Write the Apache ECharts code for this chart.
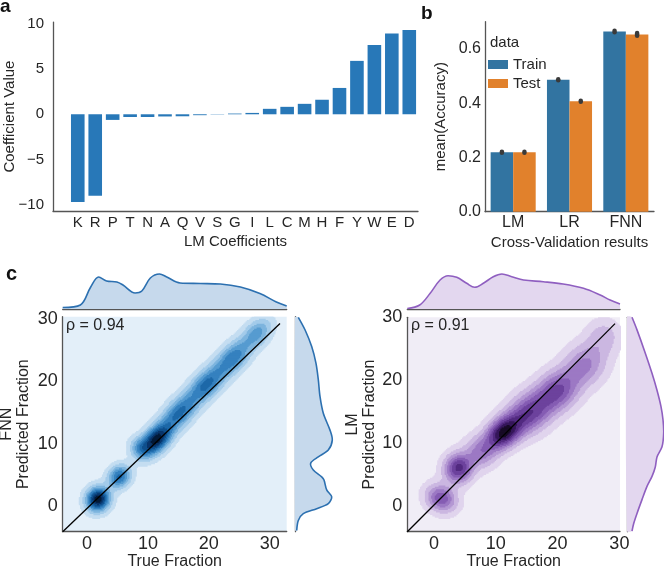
<!DOCTYPE html>
<html><head><meta charset="utf-8">
<script src="https://cdn.jsdelivr.net/npm/echarts@6/dist/echarts.min.js"></script>
<style>html,body{margin:0;padding:0;background:#fff}#c{width:664px;height:569px}</style>
</head><body><div id="c"></div>
<script>
// ---------- Panel a: LM coefficients ----------
const coefLetters = ['K','R','P','T','N','A','Q','V','S','G','I','L','C','M','H','F','Y','W','E','D'];
const coefValues = [-9.65,-8.96,-0.62,-0.3,-0.3,-0.24,-0.22,-0.1,-0.03,0.08,0.15,0.6,0.82,1.15,1.6,2.9,5.88,7.64,8.9,9.27];
const coefTicks = [-10,-5,0,5,10];

// ---------- Panel b: cross-validation ----------
const cvModels = ['LM','LR','FNN'];
const trainAcc = [0.219,0.486,0.664];
const testAcc  = [0.219,0.407,0.653];
const trainLo = [0.217,0.484,0.661];
const trainHi = [0.221,0.488,0.667];
const testLo  = [0.217,0.405,0.648];
const testHi  = [0.221,0.409,0.658];
const accTicks = [0,0.2,0.4,0.6];

// ---------- Panel c: joint KDE plots ----------
const fracTicks = [0,10,20,30];
// density components: [cx, cy, spreadAlong, spreadAcross, weight, angleDeg]
const fnnBlobs = [
  [1.8, 1.1, 1.3, 1.2, 1.0, 45],
  [5.3, 4.7, 1.3, 1.1, 0.62, 45],
  [8.8, 9.3, 1.1, 1.2, 0.35, 45],
  [11.4, 10.7, 2.0, 1.2, 0.95, 45],
  [15.2, 15.0, 2.4, 1.3, 0.6, 45],
  [19.6, 19.5, 2.4, 1.3, 0.6, 45],
  [24.0, 23.8, 2.4, 1.3, 0.56, 45],
  [28.0, 27.8, 1.8, 1.2, 0.4, 45]
];
const lmBlobs = [
  [11.2, 11.6, 2.2, 1.5, 1.0, 40],
  [4.0, 6.0, 1.6, 1.5, 0.8, 60],
  [1.2, 1.2, 1.4, 1.7, 0.62, 65],
  [7.5, 8.5, 1.6, 1.7, 0.4, 45],
  [15.5, 14.8, 2.6, 2.0, 0.68, 38],
  [20.0, 18.3, 2.5, 2.0, 0.63, 40],
  [24.5, 22.5, 2.5, 2.1, 0.42, 45],
  [27.5, 27.0, 1.8, 1.8, 0.22, 60]
];
const kdeLevels = [0.05,0.15,0.26,0.37,0.48,0.59,0.7,0.81,0.92];
const fnnColors = ['#e3eff9','#c4ddf1','#a3cbea','#7db4de','#569bd0','#3581bf','#1d68a8','#0f4f8c','#08346a','#031a38'];
const lmColors  = ['#f0edf6','#e0d4ed','#cbb7e1','#b498d3','#9c79c4','#855cb3','#6c429d','#522a80','#35165a','#170a26'];

// marginal densities
const fnnTopX = [-4,-1.1,0.6,1.9,3.2,4.9,5.9,7.9,9.0,10.4,11.9,13.1,15.3,18.6,21.9,25.2,28.4,31.1,32.8];
const fnnTopH = [1.5,4,22,32,28,27,24,16,18,31,35,32,26,25.5,25,22,15.5,7,3];
const fnnRightY = [30.3,28.3,25.6,22.9,20.3,17.6,14.9,12.2,10.6,9.0,7.9,6.9,5.8,4.7,4.2,2.6,1.5,0.4,-0.4,-1.2,-2.3,-3.9];
const fnnRightH = [3.3,10,16.7,21,23.3,25,28.3,35,37.3,33.3,23.3,15.7,18.3,26.7,29,31.7,36.7,33.3,21.7,8.3,3.3,1.7];
const lmTopX = [-4.3,-2.3,-0.6,1.0,2.3,3.7,5.3,6.6,8.0,9.6,11.0,12.6,14.5,17.7,20.9,24.2,26.9,28.5,30.1];
const lmTopH = [0.5,4,15.7,29,33.3,31.7,25.7,21.7,25.7,32.3,35,32.3,29,27.3,25,20.7,14,9,5];
const lmRightY = [30,28.0,24.3,21.1,18.4,15.8,13.7,11.6,9.4,7.8,6.2,4.7,3.1,1.0,-1.2,-2.8,-4.0];
const lmRightH = [5,10,18.3,25,30,34,36,36.7,35,30,28.3,25,20,15,10,6.7,5];

const fnnDiagX = [-4, 31.7], fnnDiagY = [-4.1, 29.3];
const lmDiagX = [-4.3, 29.3], lmDiagY = [-4.1, 29.0];

// ---------- helpers ----------
const FONT = 'Liberation Sans, Arial, Helvetica, sans-serif';
const TXT = '#262626';
const AXL = {show:true, onZero:false, lineStyle:{color:'#555', width:1.3}};

function density(blobs, x, y){
  let s = 0;
  for (const b of blobs){
    const a = b[5]*Math.PI/180, dx = x-b[0], dy = y-b[1];
    const u = dx*Math.cos(a)+dy*Math.sin(a), v = -dx*Math.sin(a)+dy*Math.cos(a);
    s += b[4]*Math.exp(-0.5*(u*u/(b[2]*b[2]) + v*v/(b[3]*b[3])));
  }
  return s;
}
function buildRuns(blobs, xmin, xmax, ymin, ymax, step){
  const nx = Math.ceil((xmax-xmin)/step)+1, ny = Math.ceil((ymax-ymin)/step)+1;
  const g = []; let mx = 0;
  for (let j=0;j<ny;j++){ const row=[]; const y=ymin+j*step;
    for (let i=0;i<nx;i++){ const d=density(blobs, xmin+i*step, y); row.push(d); if(d>mx) mx=d; }
    g.push(row); }
  const runs = [];
  kdeLevels.forEach((lv, L)=>{
    const thr = lv*mx;
    for (let j=0;j<ny;j++){ let start=-1;
      for (let i=0;i<=nx;i++){
        const on = i<nx && g[j][i]>=thr;
        if (on && start<0) start=i;
        if (!on && start>=0){ runs.push([xmin+start*step, xmin+(i-1)*step, ymin+j*step, L+1]); start=-1; }
      }
    }
  });
  return runs;
}
const STEP = 0.2;
function kdeSeries(runs, colors, gi){
  return {type:'custom', xAxisIndex:gi, yAxisIndex:gi, data:runs, clip:true, silent:true, z:1,
    encode:{x:[0,1], y:2}, animation:false, progressive:0,
    renderItem:function(p, api){
      const x0=api.value(0), x1=api.value(1), y=api.value(2), L=api.value(3);
      const a=api.coord([x0-STEP/2, y+STEP/2]), b=api.coord([x1+STEP/2, y-STEP/2]);
      return {type:'rect', shape:{x:a[0]-0.3, y:a[1]-0.4, width:b[0]-a[0]+0.6, height:b[1]-a[1]+0.8},
        style:{fill:colors[L]}};
    }};
}
function sideMarginal(ys, hs, line, fill, gi){
  return {type:'custom', xAxisIndex:gi, yAxisIndex:gi, data:[[1, ys[0]]], clip:false, silent:true,
    animation:false,
    renderItem:function(p, api){
      const pts = ys.map((y,k)=>api.coord([hs[k], y]));
      const top = api.coord([0, ys[0]]), bot = api.coord([0, ys[ys.length-1]]);
      return {type:'group', children:[
        {type:'polygon', shape:{points:[top].concat(pts,[bot]), smooth:0.3}, style:{fill:fill}},
        {type:'polyline', shape:{points:pts, smooth:0.3}, style:{stroke:line, lineWidth:1.6, fill:null}}
      ]};
    }};
}
function errSeries(lo, hi, sign){
  return {type:'custom', xAxisIndex:1, yAxisIndex:1, z:5, silent:true, animation:false,
    data: lo.map((v,i)=>[i, v, hi[i]]), encode:{x:0, y:[1,2]},
    renderItem:function(p, api){
      const i=api.value(0), a=api.coord([i, api.value(1)]), b=api.coord([i, api.value(2)]);
      const w=api.size([1,0])[0]; const x=a[0]+sign*0.2*w;
      return {type:'line', shape:{x1:x,y1:a[1],x2:x,y2:b[1]}, style:{stroke:'#3a3a3a', lineWidth:4.5, lineCap:'round'}};
    }};
}

const fnnRange = {xmin:-4, xmax:32.8, ymin:-4.1, ymax:30.4};
const lmRange  = {xmin:-4.3, xmax:30.1, ymin:-4.1, ymax:30.0};
const fnnRuns = buildRuns(fnnBlobs, fnnRange.xmin, fnnRange.xmax, fnnRange.ymin, fnnRange.ymax, STEP);
const lmRuns  = buildRuns(lmBlobs, lmRange.xmin, lmRange.xmax, lmRange.ymin, lmRange.ymax, STEP);

const lbl = (size, extra)=>Object.assign({color:TXT, fontFamily:FONT, fontSize:size}, extra||{});
const hidden = {show:false};
const coefIdx = coefLetters.map((_, i)=>i);
const G = (o)=>Object.assign({outerBoundsMode:'none', containLabel:false}, o);

const chart = echarts.init(document.getElementById('c'), null, {renderer:'canvas'});
chart.setOption({
  animation:false,
  backgroundColor:'#fff',
  textStyle:{fontFamily:FONT},
  grid:[
    G({left:53, top:22.1, width:365, height:188.9}),
    G({left:485, top:21.7, width:169, height:190}),
    G({left:62.7, top:316.7, width:224, height:215, show:true, backgroundColor:fnnColors[0], borderWidth:0}),
    G({left:62.7, top:269, width:224, height:40}),
    G({left:295, top:316.7, width:40, height:215}),
    G({left:407.3, top:317.3, width:212.7, height:214.4, show:true, backgroundColor:lmColors[0], borderWidth:0}),
    G({left:407.3, top:269, width:212.7, height:40}),
    G({left:627, top:317.3, width:37, height:214.4})
  ],
  xAxis:[
    {gridIndex:0, type:'value', min:-1.42, max:19.5, axisLine:AXL, axisTick:hidden, splitLine:hidden,
     axisLabel:lbl(15,{margin:4, customValues:coefIdx, formatter:v=>coefLetters[Math.round(v)]}),
     name:'LM Coefficients', nameLocation:'middle', nameGap:23, nameTextStyle:lbl(15)},
    {gridIndex:1, type:'category', data:cvModels, axisLine:AXL, axisTick:hidden,
     axisLabel:lbl(16,{margin:3}), name:'Cross-Validation results', nameLocation:'middle', nameGap:24,
     nameTextStyle:lbl(15)},
    {gridIndex:2, type:'value', min:fnnRange.xmin, max:fnnRange.xmax, axisLine:AXL, axisTick:hidden, splitLine:hidden,
     axisLabel:lbl(18,{margin:3, customValues:fracTicks}), name:'True Fraction', nameLocation:'middle', nameGap:22,
     nameTextStyle:lbl(16)},
    {gridIndex:3, type:'value', min:fnnRange.xmin, max:fnnRange.xmax, axisLine:AXL, axisTick:hidden, axisLabel:hidden, splitLine:hidden},
    {gridIndex:4, type:'value', min:0, max:40, show:false},
    {gridIndex:5, type:'value', min:lmRange.xmin, max:lmRange.xmax, axisLine:AXL, axisTick:hidden, splitLine:hidden,
     axisLabel:lbl(18,{margin:3, customValues:fracTicks}), name:'True Fraction', nameLocation:'middle', nameGap:22,
     nameTextStyle:lbl(16)},
    {gridIndex:6, type:'value', min:lmRange.xmin, max:lmRange.xmax, axisLine:AXL, axisTick:hidden, axisLabel:hidden, splitLine:hidden},
    {gridIndex:7, type:'value', min:0, max:37, show:false}
  ],
  yAxis:[
    {gridIndex:0, type:'value', min:-10.65, max:10.15, axisLine:AXL, axisTick:hidden, splitLine:hidden,
     axisLabel:lbl(15,{margin:9, customValues:coefTicks, formatter:v=>String(v).replace('-','\u2212')}),
     name:'Coefficient Value', nameLocation:'middle', nameRotate:90, nameGap:36, nameMoveOverlap:false,
     nameTextStyle:lbl(15)},
    {gridIndex:1, type:'value', min:0, max:0.70, axisLine:AXL, axisTick:hidden, splitLine:hidden,
     axisLabel:lbl(16,{margin:4, customValues:accTicks, formatter:v=>v.toFixed(1)}),
     name:'mean(Accuracy)', nameLocation:'middle', nameRotate:90, nameGap:37, nameTextStyle:lbl(15)},
    {gridIndex:2, type:'value', min:fnnRange.ymin, max:fnnRange.ymax, axisLine:AXL, axisTick:hidden, splitLine:hidden,
     axisLabel:lbl(18,{margin:5, customValues:fracTicks}),
     name:'FNN\nPredicted Fraction', nameLocation:'middle', nameRotate:90, nameGap:31, nameTextStyle:lbl(16,{lineHeight:17})},
    {gridIndex:3, type:'value', min:0, max:40, show:false},
    {gridIndex:4, type:'value', min:fnnRange.ymin, max:fnnRange.ymax, axisLine:AXL, axisTick:hidden, axisLabel:hidden, splitLine:hidden},
    {gridIndex:5, type:'value', min:lmRange.ymin, max:lmRange.ymax, axisLine:AXL, axisTick:hidden, splitLine:hidden,
     axisLabel:lbl(18,{margin:5, customValues:fracTicks}),
     name:'LM\nPredicted Fraction', nameLocation:'middle', nameRotate:90, nameGap:27, nameTextStyle:lbl(16,{lineHeight:17})},
    {gridIndex:6, type:'value', min:0, max:40, show:false},
    {gridIndex:7, type:'value', min:lmRange.ymin, max:lmRange.ymax, axisLine:AXL, axisTick:hidden, axisLabel:hidden, splitLine:hidden}
  ],
  legend:{data:['Train','Test'], orient:'vertical', left:488, top:57, padding:0, itemWidth:20, itemHeight:9, itemGap:4,
    icon:'rect', textStyle:lbl(15), selectedMode:false},
  graphic:[
    {type:'text', left:0, top:-3, style:{text:'a', font:'bold 19px '+FONT, fill:'#111'}},
    {type:'text', left:421, top:4, style:{text:'b', font:'bold 19px '+FONT, fill:'#111'}},
    {type:'text', left:6, top:264, style:{text:'c', font:'bold 20px '+FONT, fill:'#111'}},
    {type:'text', left:490, top:35, style:{text:'data', font:'15px '+FONT, fill:TXT}},
    {type:'text', left:66, top:318, z:10, style:{text:'\u03c1 = 0.94', font:'16px '+FONT, fill:TXT}},
    {type:'text', left:411, top:318, z:10, style:{text:'\u03c1 = 0.91', font:'16px '+FONT, fill:TXT}}
  ],
  series:[
    {type:'bar', xAxisIndex:0, yAxisIndex:0, data:coefValues.map((v,i)=>[i, v]), barWidth:13.6, itemStyle:{color:'#2878b8'}, silent:true},
    {type:'bar', name:'Train', xAxisIndex:1, yAxisIndex:1, data:trainAcc, barWidth:'40%', barGap:'0%', itemStyle:{color:'#3274a1'}, silent:true},
    {type:'bar', name:'Test', xAxisIndex:1, yAxisIndex:1, data:testAcc, barWidth:'40%', barGap:'0%', itemStyle:{color:'#e1812c'}, silent:true},
    errSeries(trainLo, trainHi, -1),
    errSeries(testLo, testHi, 1),
    kdeSeries(fnnRuns, fnnColors, 2),
    kdeSeries(lmRuns, lmColors, 5),
    {type:'line', xAxisIndex:2, yAxisIndex:2, data:fnnDiagX.map((x,i)=>[x, fnnDiagY[i]]), symbol:'none', z:5,
     lineStyle:{color:'#000', width:1.3}, silent:true},
    {type:'line', xAxisIndex:5, yAxisIndex:5, data:lmDiagX.map((x,i)=>[x, lmDiagY[i]]), symbol:'none', z:5,
     lineStyle:{color:'#000', width:1.3}, silent:true},
    {type:'line', xAxisIndex:3, yAxisIndex:3, data:fnnTopX.map((x,i)=>[x, fnnTopH[i]]), symbol:'none', smooth:0.35,
     lineStyle:{color:'#2c70b0', width:1.6}, areaStyle:{color:'#c6d9ec', opacity:1}, silent:true},
    {type:'line', xAxisIndex:6, yAxisIndex:6, data:lmTopX.map((x,i)=>[x, lmTopH[i]]), symbol:'none', smooth:0.35,
     lineStyle:{color:'#8f5fc0', width:1.6}, areaStyle:{color:'#e3d7ef', opacity:1}, silent:true},
    sideMarginal(fnnRightY, fnnRightH, '#2c70b0', '#c6d9ec', 4),
    sideMarginal(lmRightY, lmRightH, '#8f5fc0', '#e3d7ef', 7)
  ]
});
</script></body></html>
